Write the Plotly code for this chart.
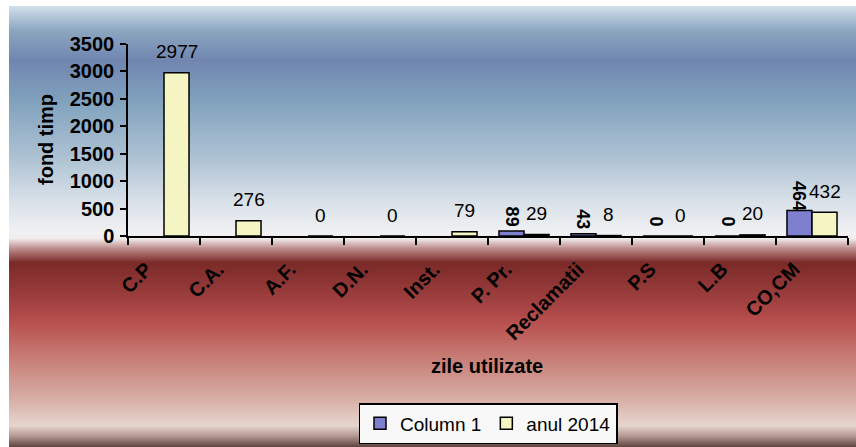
import base64, struct, zlib
import plotly.graph_objects as go

categories = ["C.P", "C.A.", "A.F.", "D.N.", "Inst.", "P. Pr.", "Reclamatii", "P.S", "L.B", "CO,CM"]
column1 = [None, None, None, None, None, 89, 43, 0, 0, 464]
anul2014 = [2977, 276, 0, 0, 79, 29, 8, 0, 20, 432]
y_ticks = [0, 500, 1000, 1500, 2000, 2500, 3000, 3500]

FONT = "Liberation Sans, Arial, sans-serif"
W, H = 856, 447
L, R, T, B = 128, 8, 44, 211
PW, PH = W - L - R, H - T - B

# ---- background gradient (figure area) as a small PNG ----
stops = [
    (6, (208, 222, 233)), (30, (140, 166, 192)), (60, (112, 134, 176)),
    (100, (128, 161, 189)), (160, (176, 196, 212)), (200, (216, 224, 232)),
    (232, (240, 241, 243)), (238, (240, 236, 236)), (248, (190, 140, 140)),
    (262, (122, 42, 40)), (300, (160, 64, 64)), (322, (184, 80, 78)),
    (360, (200, 128, 120)), (400, (216, 176, 168)), (425, (230, 214, 206)),
    (436, (176, 150, 142)), (447, (90, 64, 56)),
]

def color_at(y):
    for (y0, c0), (y1, c1) in zip(stops, stops[1:]):
        if y0 <= y <= y1:
            f = (y - y0) / (y1 - y0)
            return tuple(int(round(a + (b - a) * f)) for a, b in zip(c0, c1))
    return stops[-1][1]

rows = b""
for y in range(6, H):
    c = bytes(color_at(y))
    rows += b"\x00" + c * 2

def chunk(tag, data):
    return struct.pack(">I", len(data)) + tag + data + struct.pack(">I", zlib.crc32(tag + data) & 0xffffffff)

png = b"\x89PNG\r\n\x1a\n" + chunk(b"IHDR", struct.pack(">IIBBBBB", 2, H - 6, 8, 2, 0, 0, 0)) \
      + chunk(b"IDAT", zlib.compress(rows)) + chunk(b"IEND", b"")
bg_uri = "data:image/png;base64," + base64.b64encode(png).decode()

fig = go.Figure()
fig.add_trace(go.Bar(x=categories, y=column1, name="Column 1",
                     marker=dict(color="#7f7fcf", line=dict(color="black", width=1.5))))
fig.add_trace(go.Bar(x=categories, y=anul2014, name="anul 2014",
                     marker=dict(color="#f5f5c3", line=dict(color="black", width=1.5))))

annotations = []
for cat, v in zip(categories, anul2014):
    if v is not None:
        annotations.append(dict(x=cat, y=v, xref="x", yref="y", text=str(v), showarrow=False,
                                xshift=12.5, yshift=21, yanchor="middle",
                                font=dict(family=FONT, size=19, color="black")))
for cat, v in zip(categories, column1):
    if v is not None:
        annotations.append(dict(x=cat, y=v, xref="x", yref="y", text="<b>%d</b>" % v, showarrow=False,
                                xshift=-12.5, yshift=15, yanchor="middle", textangle=90,
                                font=dict(family=FONT, size=18, color="black")))
annotations.append(dict(x=(46 - L) / PW, y=(T + PH - 140) / PH, xref="paper", yref="paper",
                        xanchor="center", yanchor="middle",
                        text="<b>fond timp</b>", showarrow=False, textangle=-90,
                        font=dict(family=FONT, size=20, color="black")))
annotations.append(dict(x=(487 - L) / PW, y=(T + PH - 366) / PH, xref="paper", yref="paper",
                        xanchor="center", yanchor="middle",
                        text="<b>zile utilizate</b>", showarrow=False,
                        font=dict(family=FONT, size=20, color="black")))

fig.update_layout(
    width=W, height=H,
    margin=dict(l=L, r=R, t=T, b=B, autoexpand=False),
    paper_bgcolor="white", plot_bgcolor="rgba(0,0,0,0)",
    barmode="group", bargap=0.305, bargroupgap=0,
    font=dict(family=FONT, color="black"),
    images=[dict(source=bg_uri, xref="paper", yref="paper",
                 x=(9 - L) / PW, y=(T + PH - 6) / PH,
                 sizex=(W - 9) / PW, sizey=(H - 6) / PH,
                 xanchor="left", yanchor="top", sizing="stretch", layer="below")],
    annotations=annotations,
    showlegend=True,
    legend=dict(orientation="h", x=(488 - L) / PW, xanchor="center",
                y=(T + PH - 403) / PH, yanchor="top",
                bgcolor="#f8f8f8", bordercolor="black", borderwidth=1.5,
                font=dict(family=FONT, size=19, color="black"),
                itemwidth=30, traceorder="normal"),
    xaxis=dict(type="category", showgrid=False, showline=True, linecolor="black", linewidth=1.5,
               ticks="outside", tickson="boundaries", ticklen=7, tickcolor="black", tickwidth=1.5,
               tickangle=-45, tickfont=dict(family=FONT, size=20, color="black", weight="bold"),
               ticklabelshift=-18, ticklabelstandoff=12, automargin=False, fixedrange=True),
    yaxis=dict(range=[0, 3500], tickvals=y_ticks, showgrid=False, zeroline=False,
               showline=True, linecolor="black", linewidth=1.5,
               ticks="outside", ticklen=6, tickcolor="black", tickwidth=1.5,
               tickfont=dict(family=FONT, size=20, color="black", weight="bold"),
               ticklabelstandoff=2, automargin=False, fixedrange=True),
)

fig.write_html("out.html", config={"displayModeBar": False},
               post_script="document.body.style.margin='0px';document.body.style.overflow='hidden';")
